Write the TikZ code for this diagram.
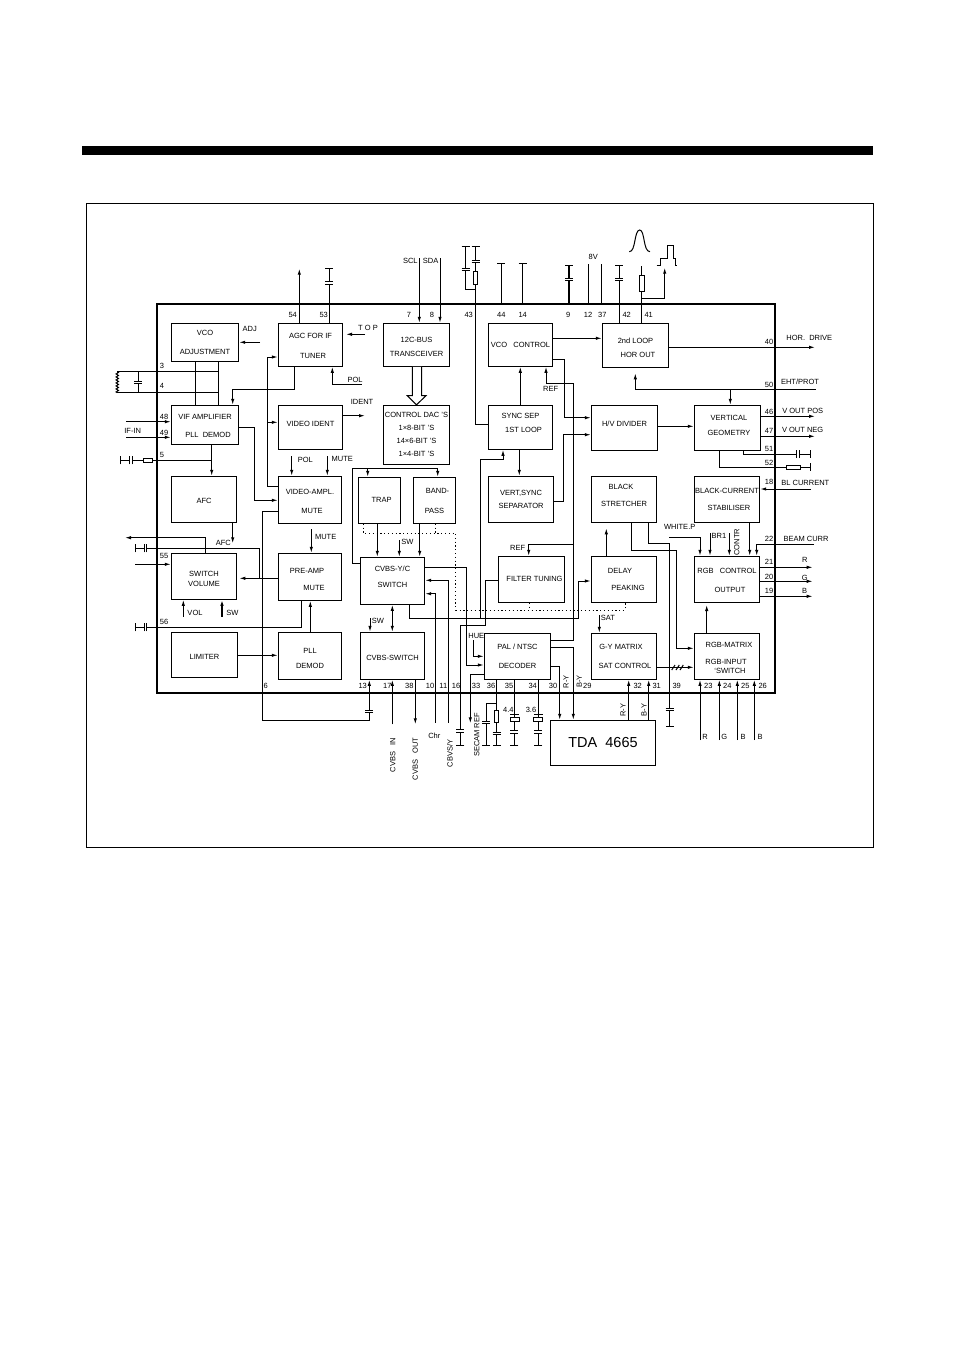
\documentclass[tikz,border=0pt]{standalone}
\usepackage{fontspec}
\setmainfont{Liberation Sans}
\usetikzlibrary{arrows.meta,decorations.pathmorphing}
\newcommand{\blocktext}{\fontsize{7.5}{9}\selectfont}
\newcommand{\mv}[2]{\raisebox{#1pt}[\height][\depth]{\begin{tabular}{@{}c@{}}#2\end{tabular}}}
\tikzset{
  arr/.style={-{Latex[length=6pt,width=3.4pt]}},
  biarr/.style={{Latex[length=6pt,width=3.4pt]}-{Latex[length=6pt,width=3.4pt]}},
  bar/.style={-{Bar[width=8pt]}},
  tbar/.style={-{Bar[width=8pt,line width=1.6pt]}},
  dots/.style={dash pattern=on 1.2pt off 2.6pt,line width=1pt},
  bsize/.style 2 args={minimum width=#1,minimum height=#2},
  res/.style={draw,fill=white,inner sep=0pt},
  capv/.pic={
    \fill[white] (-4,-1.2) rectangle (4,1.2);
    \draw (-4,-1.2) -- (4,-1.2) (-4,1.2) -- (4,1.2);
  }
}
\begin{document}
\begin{tikzpicture}[x=1pt,y=-1pt,line width=1pt,font=\blocktext,every edge/.style={draw}]
  \useasboundingbox (0,0) rectangle (954,1351);
  \fill (82,146) rectangle (873,155);
  \draw[line width=.6pt] (86,203) rectangle (873,847);
  \begin{scope}[every node/.style={draw,inner sep=0pt,align=center,font=\blocktext}]
    \node[bsize={617.4}{389},line width=2.3pt] (chip) at (466,498.2) {};
    \node[bsize={67.4}{38}] (vco) at (205,342.3) {VCO\\[10pt]ADJUSTMENT};
    \node[bsize={64.4}{43}] (agc) at (310.5,344.8) {\mv{-2}{AGC FOR IF\\[10.5pt]\hspace*{5pt}TUNER}};
    \node[bsize={66.4}{43}] (i2c) at (416.5,344.8) {\mv{-3}{12C-BUS\\[5.5pt]TRANSCEIVER}};
    \node[bsize={64.4}{43}] (vcoc) at (520.5,344.8) {VCO~~~CONTROL};
    \node[bsize={66.4}{44}] (loop2) at (635.5,345.3) {\mv{-3}{2nd LOOP\\[5pt]\hspace*{5pt}HOR OUT}};
    \node[bsize={67.4}{39}] (vif) at (205,424.8) {\mv{-2}{VIF AMPLIFIER\\[9.3pt]\hspace*{6pt}PLL~~DEMOD}};
    \node[bsize={64.4}{44}] (ident) at (310.5,427.3) {\mv{3}{VIDEO IDENT}};
    \node[bsize={66.4}{59}] (dac) at (416.5,434.8) {CONTROL DAC 'S\\[4pt]1×8-BIT 'S\\[4pt]14×6-BIT 'S\\[4pt]1×4-BIT 'S};
    \node[bsize={64.4}{44}] (sync) at (520.5,427.3) {\mv{4}{SYNC SEP\\[5pt]\hspace*{6pt}1ST LOOP}};
    \node[bsize={66.4}{45}] (hv) at (624.5,427.8) {\mv{3}{H/V DIVIDER}};
    \node[bsize={66.4}{45}] (vert) at (727.5,427.8) {\mv{1.5}{\hspace*{3pt}VERTICAL\\[6pt]\hspace*{3pt}GEOMETRY}};
    \node[bsize={65.4}{46}] (afc) at (204,499.3) {\mv{-2}{AFC}};
    \node[bsize={63.4}{47}] (vamp) at (310,499.8) {\mv{-2.5}{VIDEO-AMPL.\\[10.4pt]\hspace*{4pt}MUTE}};
    \node[bsize={42.4}{46}] (trap) at (379.5,500.3) {\hspace*{4pt}TRAP};
    \node[bsize={42.4}{46}] (band) at (434.5,500.3) {\mv{-1.5}{\hspace*{6pt}BAND-\\[10.4pt]PASS}};
    \node[bsize={65.4}{46}] (vsep) at (521,499.3) {VERT,SYNC\\[4.6pt]SEPARATOR};
    \node[bsize={65.4}{46}] (black) at (624,499.3) {\mv{3}{BLACK\hspace*{6pt}\\[7.7pt]STRETCHER}};
    \node[bsize={65.4}{46}] (bcs) at (727,499.3) {BLACK-CURRENT\\[8.6pt]\hspace*{4pt}STABILISER};
    \node[bsize={65.4}{46}] (swv) at (204,576.3) {\mv{-3.5}{SWITCH\\[.7pt]VOLUME}};
    \node[bsize={63.4}{47}] (pre) at (310,576.8) {\mv{-3.5}{PRE-AMP\hspace*{6pt}\\[8.7pt]\hspace*{8pt}MUTE}};
    \node[bsize={64.4}{47}] (cvyc) at (392.5,580.8) {\mv{3}{CVBS-Y/C\\[7pt]SWITCH}};
    \node[bsize={66.4}{46}] (ftun) at (531.5,579.3) {\hspace*{6pt}FILTER TUNING};
    \node[bsize={65.4}{46}] (delay) at (624,579.3) {DELAY\hspace*{8pt}\\[8.3pt]\hspace*{8pt}PEAKING};
    \node[bsize={65.4}{46}] (rgbc) at (727,579.3) {\mv{-2}{RGB~~~CONTROL\\[10.3pt]\hspace*{6pt}OUTPUT}};
    \node[bsize={66.4}{45}] (lim) at (204.5,654.8) {\mv{-3}{LIMITER}};
    \node[bsize={63.4}{47}] (pll) at (310,655.8) {\mv{-3.5}{PLL\\[6.7pt]DEMOD}};
    \node[bsize={64.4}{47}] (cvsw) at (392.5,655.8) {\mv{-2.5}{CVBS-SWITCH}};
    \node[bsize={66.4}{46}] (dec) at (517.5,656.3) {PAL / NTSC\\[10.7pt]DECODER};
    \node[bsize={65.4}{46}] (gy) at (624,656.3) {G-Y MATRIX\hspace*{6pt}\\[10.7pt]\hspace*{2pt}SAT CONTROL};
    \node[bsize={65.4}{46}] (rgbm) at (727,656.3) {\mv{-2.5}{\hspace*{4pt}RGB-MATRIX\\[7.7pt]RGB-INPUT\hspace*{2pt}\\[.7pt]\hspace*{6pt}`SWITCH}};
    \node[bsize={105.4}{45},font=\fontsize{14.5}{16}\selectfont] (tda) at (603,742.8) {TDA~~4665};
  \end{scope}
  % free ends
  \foreach \n/\x/\y in {t54/299.3/268.7,t53/329.3/268.3,tadj/260/342.3,ttop/365/334.3,ttopa/346/334.3,
    tc3/117.3/371.7,tc4/117.3/392.7,t48/126/421.7,t49/126/437.3,t5/120.3/460.3,tident/365/415.7,tpol/361.7/384.7,
    tpolv/291.7/456,tmutev/327.3/456,tafc/232.7/543.3,tout/125/537.7,t55c/135.3/548.3,t55/135/564.3,
    tvol/183.3/616.7,tsw/222/616.7,t56/135.3/627.3,tmutep/311.3/529,tscl/419.3/258.3,tsda/440/258.3,
    t43a/475.7/246.3,t43b/465.7/246.3,t44/501.3/263.3,t14/522.7/263.3,t9/569/264.7,t12/588.7/264.3,t37/601.3/264.3,
    t42/619.3/264.7,t41/641.7/266,tpulse/664.7/267.7,t40/815/347.3,t50/815.7/389.3,t46/815/416.3,t47/815/436.3,
    t51/810.7/454,t52/810.7/467.3,t18/810.7/489,t22/814/544.3,t21/812.7/567.3,t20/812.7/581.3,t19/812.7/596.3,
    twhite/669.3/537.3,tbr/710/533.3,tcontr/729.3/533.3,tsat/599.3/615,t23/700/740,t24/719.3/740,t25/737.3/740,t26/754.3/740,
    t17/392.3/724.3,t38/415.3/724.3,t10/435.7/722.7,t11/448.7/722.7,t16/460.3/746.3,t33/470.3/723.3,
    t36a/496.7/746.3,t36b/486/746.3,t35/514.3/746.3,t34/538.3/746.3,t39/669.7/727.3,tswa/399.3/540,tswb/370/618.3,thue/473.3/640.3}
    \coordinate (\n) at (\x,\y);
  % left part
  \path (299.3,0 |- agc.north) edge[arr] (t54);
  \path (329.3,0 |- agc.north) edge[bar] (t53);
  \path (tadj) edge[arr] (vco.east |- tadj);
  \path (ttop) edge[arr] (ttopa);
  \path (195,0 |- vco.south) edge (195,0 |- vif.north);
  \path (218.3,0 |- vco.south) edge (218.3,0 |- vif.north);
  \path (tc3) edge (218.3,0 |- tc3);
  \path (tc4) edge (218.3,0 |- tc4);
  \path (138.3,0 |- tc3) edge (138.3,0 |- tc4);
  \draw[decorate,decoration={zigzag,amplitude=1.2pt,segment length=3pt}] (tc3) -- (tc4);
  \path (t48) edge[arr] (vif.west |- t48);
  \path (t49) edge[arr] (vif.west |- t49);
  \draw[bar] (211.7,460.3) -- (t5);
  \path (211.7,0 |- vif.south) edge[arr] (211.7,0 |- afc.north);
  \draw[arr] (294.7,0 |- agc.south) |- (232.7,389.3) -- (232.7,0 |- vif.north);
  \draw[arr] (tpol) -| (332.3,0 |- agc.south);
  \draw[arr] (vif.east |- 0,427.3) -| (254.3,500.3) -- (vamp.west |- 0,500.3);
  \draw[arr] (vamp.west |- 0,486.7) -| (267.3,357) -- (agc.west |- 0,357);
  \path (267.3,422.3) edge[arr] (ident.west |- 0,422.3);
  \path (ident.east |- tident) edge[arr] (tident);
  \path (tpolv) edge[arr] (tpolv |- vamp.north);
  \path (tmutev) edge[arr] (tmutev |- vamp.north);
  \draw[arr] (vamp.west |- 0,511.7) -| (262.3,720) -| (369.3,0 |- cvsw.south);
  \path (232.7,0 |- afc.south) edge[arr] (tafc);
  \draw[arr] (205.7,0 |- swv.north) |- (tout);
  \path (pre.west |- 0,578.3) edge[arr] (239.3,578.3);
  \draw[bar] (259.3,578.3) |- (t55c);
  \path (t55) edge[arr] (swv.west |- t55);
  \path (tvol) edge[arr] (tvol |- swv.south);
  \path (tsw) edge[arr,line width=1.4pt] (tsw |- swv.south);
  \draw[bar] (301.7,0 |- pre.south) |- (t56);
  \path (310.3,0 |- pll.north) edge[arr] (310.3,0 |- pre.south);
  \path (tmutep) edge[arr] (tmutep |- pre.north);
  \path (lim.east |- 0,655.3) edge[arr] (pll.west |- 0,655.3);
  % middle part
  \path (tscl) edge[arr] (tscl |- i2c.north);
  \path (tsda) edge[arr] (tsda |- i2c.north);
  \draw[fill=white] (412.3,0 |- i2c.south) -- (412.3,395.7) -- (407.3,395.7) -- (dac.north) -- (426,395.7) -- (421.7,395.7) -- (421.7,0 |- i2c.south);
  \draw[bar] (sync.west |- 0,424.3) -| (t43a);
  \draw[bar] (475.7,289.7) -| (t43b);
  \path (501.3,0 |- chip.north) edge[bar] (t44);
  \path (522.7,0 |- chip.north) edge[bar] (t14);
  \path (569,0 |- chip.north) edge[tbar,line width=1.6pt] (t9);
  \path (588.7,0 |- chip.north) edge (t12);
  \path (601.3,0 |- chip.north) edge (t37);
  \path (619.3,0 |- loop2.north) edge[tbar] (t42);
  \path (641.7,0 |- loop2.north) edge (t41);
  \draw[arr] (641.7,298.3) -| (tpulse);
  \path (vcoc.east |- 0,338.3) edge[arr] (loop2.west |- 0,338.3);
  \draw[arr] (vcoc.east |- 0,359.3) -| (564.3,417.7) -- (hv.west |- 0,417.7);
  \path (520.3,0 |- sync.north) edge[arr] (520.3,0 |- vcoc.south);
  \draw[arr] (dec.east |- 0,640.3) -| (573.3,383.3) -| (546,0 |- vcoc.south);
  \draw[arr] (573.3,544.3) -| (528.7,0 |- ftun.north);
  \draw[arr] (vsep.east |- 0,501.3) -| (563.3,434.7) -- (hv.west |- 0,434.7);
  \path (519.3,0 |- sync.south) edge[arr] (519.3,0 |- vsep.north);
  \draw[arr] (480.3,618.3) |- (503,459.3) -- (503,0 |- sync.south);
  \draw[arr] (409.7,0 |- cvyc.south) |- (578.7,618.3) |- (delay.west |- 0,581);
  \draw[arr] (cvyc.west |- 0,563.3) -| (352.3,468.3) -| (437.7,0 |- band.north);
  \path (367.7,468.3) edge[arr] (367.7,0 |- trap.north);
  \path (377.3,0 |- trap.south) edge[arr] (377.3,0 |- cvyc.north);
  \path (419.7,0 |- band.south) edge[arr] (419.7,0 |- cvyc.north);
  \path (tswa) edge[arr] (tswa |- cvyc.north);
  \draw[dots] (363.3,0 |- trap.south) |- (455.7,533.3) |- (625,610) -- (625,0 |- delay.south);
  \draw[dots] (435.7,0 |- band.south) -- (435.7,533.3);
  \draw[dots] (529.3,0 |- ftun.south) -- (529.3,610);
  \draw[arr] (cvyc.east |- 0,567.3) -| (466.3,665) -- (dec.west |- 0,665);
  \draw[arr] (t11) |- (cvyc.east |- 0,580.3);
  \draw[arr] (t10) |- (cvyc.east |- 0,593.7);
  \draw[bar] (ftun.west |- 0,580.3) -| (485.7,625.7) -| (t16);
  \draw[arr] (dec.west |- 0,674) -| (t33);
  \draw[arr] (thue) |- (dec.west |- 0,656.3);
  \path (496.7,0 |- dec.south) edge[bar] (t36a);
  \draw[bar] (496.7,703.3) -| (t36b);
  \path (514.3,0 |- dec.south) edge[bar] (t35);
  \path (538.3,0 |- dec.south) edge[bar] (t34);
  \draw[arr] (dec.east |- 0,666) -| (559.7,0 |- tda.north);
  \draw[arr] (dec.east |- 0,647.3) -| (573.3,0 |- tda.north);
  \path (t17) edge[arr] (t17 |- cvsw.south);
  \path (415.3,0 |- cvsw.south) edge[arr] (t38);
  \path (392.3,0 |- cvyc.south) edge[biarr] (392.3,0 |- cvsw.north);
  \path (tswb) edge[arr] (tswb |- cvsw.north);
  % right part
  \path (loop2.east |- t40) edge[arr] (t40);
  \draw[arr] (t50) -| (635.3,373.3);
  \path (730.3,389.3) edge[arr] (730.3,0 |- vert.north);
  \path (hv.east |- 0,426.3) edge[arr] (vert.west |- 0,426.3);
  \path (vert.east |- t46) edge[arr] (t46);
  \path (vert.east |- t47) edge[arr] (t47);
  \draw[bar] (743.3,0 |- vert.south) |- (t51);
  \draw[bar] (719.3,0 |- vert.south) |- (t52);
  \path (t18) edge[arr] (bcs.east |- t18);
  \draw[arr] (631.7,0 |- black.south) |- (676.7,550.3) |- (rgbm.west |- 0,648.3);
  \draw[bar] (648.7,0 |- black.south) |- (669.7,543.3) -- (t39);
  \path (gy.east |- 0,667.3) edge[arr] (rgbm.west |- 0,667.3);
  \foreach \x in {671.7,676,680} \draw (\x,670) -- (\x+3.3,665);
  \draw[arr] (twhite) -| (700,0 |- rgbc.north);
  \path (tbr) edge[arr] (tbr |- rgbc.north);
  \path (tcontr) edge[arr] (tcontr |- rgbc.north);
  \path (749.7,0 |- bcs.south) edge[arr] (749.7,0 |- rgbc.north);
  \draw[arr] (t22) -| (756.7,0 |- rgbc.north);
  \path (rgbc.east |- t21) edge[arr] (t21);
  \path (rgbc.east |- t20) edge[arr] (t20);
  \path (rgbc.east |- t19) edge[arr] (t19);
  \path (606.3,0 |- delay.north) edge[arr] (606.3,528.3);
  \path (706.7,0 |- rgbm.north) edge[arr] (706.7,605);
  \path (tsat) edge[arr] (tsat |- gy.north);
  \path (628.7,0 |- tda.north) edge[arr] (628.7,0 |- gy.south);
  \path (648.7,0 |- tda.north) edge[arr] (648.7,0 |- gy.south);
  \path (t23) edge[arr] (t23 |- rgbm.south);
  \path (t24) edge[arr] (t24 |- rgbm.south);
  \path (t25) edge[arr] (t25 |- rgbm.south);
  \path (t26) edge[arr] (t26 |- rgbm.south);
  % capacitors and resistors
  \pic at (329.3,283) {capv};
  \pic at (138.3,382.7) {capv};
  \pic[rotate=90] at (130.8,460.3) {capv};
  \pic[rotate=90] at (145.3,548.3) {capv};
  \pic[rotate=90] at (145.3,627.3) {capv};
  \pic at (369.3,711.7) {capv};
  \pic at (475.7,261.5) {capv};
  \pic at (465.7,269.5) {capv};
  \pic at (569,279.5) {capv};
  \pic at (619.3,279.7) {capv};
  \pic[rotate=90] at (797.8,454) {capv};
  \pic at (460.3,730.8) {capv};
  \pic at (486,722.5) {capv};
  \pic at (496.7,733.2) {capv};
  \pic at (514.3,732) {capv};
  \pic at (538.3,732) {capv};
  \pic at (669.7,709.3) {capv};
  \node[res,minimum width=9.4,minimum height=4.3] (r5) at (148,460.3) {};
  \node[res,minimum width=4.4,minimum height=13] (r43) at (475.5,277.8) {};
  \node[res,minimum width=4.8,minimum height=16] (r41) at (641.8,283.2) {};
  \node[res,minimum width=14.4,minimum height=4.4] (r52) at (793.5,467.5) {};
  \node[res,minimum width=4.4,minimum height=12.3] (r36) at (496.5,716.2) {};
  \node[res,minimum width=9,minimum height=4.4] (x35) at (514.5,719.5) {};
  \node[res,minimum width=9,minimum height=4.4] (x34) at (538.3,719.5) {};
  \draw[line width=1.2pt] (510,714.5) -- (519,714.5) (534,714.5) -- (543,714.5);
  % pulse shapes
  \draw (629.3,251.7) .. controls (636,251.7) and (634,230) .. (639.7,230) .. controls (645,230) and (643,251.7) .. (650,251.7);
  \draw (656.7,265) -- (660.7,265) -- (660.7,258.3) -- (667.7,258.3) -- (667.7,245) -- (673.7,245) -- (673.7,258.3) -- (675.3,258.3) -- (675.3,265) -- (677.3,265);
  % pin numbers
  \foreach \n/\x/\y in {54/292.7/314.7,53/323.7/314.7,7/409/314.7,8/432/314.7,43/468.7/314.7,44/501.3/314.7,14/522.7/314.7,
    9/568.3/314.7,12/588/314.7,37/602.3/314.7,42/626.7/314.7,41/648.7/314.7,3/162/366,4/162/386,48/164/417,49/164/432.7,
    5/162/455.3,55/164/556,56/164/622.3,6/265.7/685.7,13/362.7/686,17/387.3/686,38/409.3/686,10/430/686,11/443.3/686,
    16/456/686,33/476/686,36/491/686,35/509/686,34/532.7/686,30/553/686,29/587.3/686,32/637.7/686,31/656.7/686,39/676.7/686,
    23/708.3/686,24/727.3/686,25/745.3/686,26/762.7/686,40/769/342.3,50/769/385,46/769/412,47/769/431,51/769/448.7,
    52/769/463.3,18/769/482.3,22/769/539,21/769/562,20/769/577.3,19/769/591.3}
    \node (p\n) at (\x,\y) {\n};
  % labels
  \node (ladj) at (249.7,329) {ADJ};
  \node (ltop) at (368,327.7) {T O P};
  \node (lpol) at (355,380) {POL};
  \node (lident) at (362,402.3) {IDENT};
  \node (lifin) at (132.7,431) {IF-IN};
  \node (lpolv) at (305.3,460) {POL};
  \node (lmutev) at (342.3,459.3) {MUTE};
  \node (lafc) at (223.3,542.7) {AFC};
  \node (lmutep) at (325.7,537) {MUTE};
  \node (lvol) at (195,613.3) {VOL};
  \node (lsw) at (232.3,613.3) {SW};
  \node (lscl) at (410.3,261.3) {SCL};
  \node (lsda) at (430.7,261.3) {SDA};
  \node (l8v) at (593.3,257.3) {8V};
  \node (lrefa) at (550.7,389.3) {REF};
  \node (lswa) at (407.3,542.3) {SW};
  \node (lswb) at (378,621) {SW};
  \node (lrefb) at (517.7,548) {REF};
  \node (lhue) at (476.3,635.7) {HUE};
  \node (lchr) at (434.3,736) {Chr};
  \node[rotate=90] (lcvbsy) at (450,753.5) {CBVS/Y};
  \node[rotate=90] (lsecam) at (476.7,735) {SECAM REF};
  \node[rotate=90] (lcvbsin) at (392.7,755) {CVBS~~~IN};
  \node[rotate=90] (lcvbsout) at (415.3,759) {CVBS~~~OUT};
  \node (l44) at (508.3,710) {4.4};
  \node (l36) at (531,710) {3.6};
  \node[rotate=90] (lrya) at (566,681.7) {R-Y};
  \node[rotate=90] (lbya) at (579.3,681.7) {B-Y};
  \node[rotate=90] (lryb) at (623,710) {R-Y};
  \node[rotate=90] (lbyb) at (644,710) {B-Y};
  \node (lhor) at (809.3,338.3) {HOR.~~DRIVE};
  \node (leht) at (800,382) {EHT/PROT};
  \node (lvpos) at (802.7,411) {V OUT POS};
  \node (lvneg) at (802.7,430) {V OUT NEG};
  \node (lbl) at (805.3,483) {BL CURRENT};
  \node (lbeam) at (806,539) {BEAM CURR};
  \node (lr) at (804.7,560) {R};
  \node (lg) at (804.7,577.7) {G};
  \node (lb) at (804.7,591) {B};
  \node (lwhite) at (679.7,526.7) {WHITE.P};
  \node (lbr) at (719,536) {BR1};
  \node[rotate=90] (lcontr) at (736.7,542.3) {CONTR};
  \node (lsat) at (608,618) {SAT};
  \node (lri) at (705,736.7) {R};
  \node (lgi) at (724.3,736.7) {G};
  \node (lbi) at (743,736.7) {B};
  \node (lbj) at (760,736.7) {B};
\end{tikzpicture}
\end{document}
